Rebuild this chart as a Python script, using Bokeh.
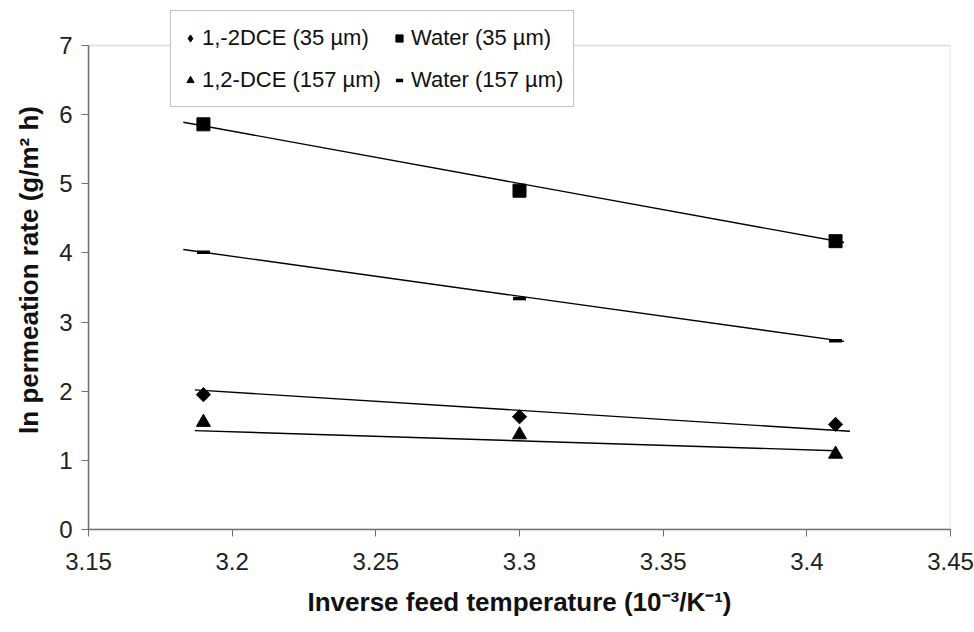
import numpy as np
from bokeh.plotting import figure
from bokeh.models import Range1d, FixedTicker, Legend, LegendItem, BoxAnnotation
from bokeh.embed import file_html
from bokeh.resources import INLINE

# Data
inv_temp = [3.19, 3.30, 3.41]
dce_35 = [1.95, 1.63, 1.52]
water_35 = [5.86, 4.90, 4.17]
dce_157 = [1.55, 1.37, 1.09]
water_157 = [4.01, 3.34, 2.73]

# Trend lines as drawn in the chart (start/end x and y)
trend_water_35_x = [3.183, 3.413]
trend_water_35_y = [5.89, 4.15]
trend_water_157_x = [3.183, 3.413]
trend_water_157_y = [4.05, 2.72]
trend_dce_35_x = [3.187, 3.415]
trend_dce_35_y = [2.02, 1.42]
trend_dce_157_x = [3.187, 3.410]
trend_dce_157_y = [1.43, 1.14]

x_ticks = [3.15, 3.20, 3.25, 3.30, 3.35, 3.40, 3.45]
x_tick_labels = ["3.15", "3.2", "3.25", "3.3", "3.35", "3.4", "3.45"]
y_ticks = [0, 1, 2, 3, 4, 5, 6, 7]

FONT = "Liberation Sans"
GREY = "#8a8a8a"

# The frame is extended upward so that the legend (which sticks out above
# the plot box) is not clipped; the visible box is drawn for 0..7.
y_top = y_ticks[-1] * (519 / 484)

p = figure(width=974, height=632, output_backend="svg", toolbar_location=None,
           x_range=Range1d(x_ticks[0], x_ticks[-1]), y_range=Range1d(0, y_top),
           min_border_left=88, min_border_right=24, min_border_top=10, min_border_bottom=103)

p.xgrid.visible = False
p.ygrid.visible = False
p.outline_line_color = None
p.background_fill_color = "white"
p.border_fill_color = "white"

box = BoxAnnotation(left=x_ticks[0], right=x_ticks[-1], bottom=y_ticks[0], top=y_ticks[-1],
                    fill_color=None, line_color=GREY, line_width=1.5, level="underlay")
p.add_layout(box)

for ax in (p.xaxis[0], p.yaxis[0]):
    ax.axis_line_color = "#707070"
    ax.axis_line_width = 1.5
    ax.major_tick_line_color = "#707070"
    ax.major_tick_out = 7
    ax.major_tick_in = 0
    ax.minor_tick_line_color = None
    ax.major_label_text_font = FONT
    ax.major_label_text_font_size = "24px"
    ax.major_label_text_color = "#222222"
    ax.axis_label_text_font = FONT
    ax.axis_label_text_font_style = "bold"
    ax.axis_label_text_font_size = "26px"
    ax.axis_label_text_color = "#111111"

p.xaxis.ticker = FixedTicker(ticks=x_ticks)
p.xaxis.major_label_overrides = {t: l for t, l in zip(x_ticks, x_tick_labels)}
p.yaxis.ticker = FixedTicker(ticks=y_ticks)
p.yaxis.bounds = (y_ticks[0], y_ticks[-1])
p.xaxis.axis_label = "Inverse feed temperature (10\u207b\u00b3/K\u207b\u00b9)"
p.yaxis.axis_label = "ln permeation rate (g/m\u00b2 h)"
p.xaxis.major_label_standoff = 16
p.xaxis.axis_label_standoff = 14
p.yaxis.major_label_standoff = 9
p.yaxis.axis_label_standoff = 12

# Trend lines
for tx, ty in ((trend_water_35_x, trend_water_35_y),
               (trend_water_157_x, trend_water_157_y),
               (trend_dce_35_x, trend_dce_35_y),
               (trend_dce_157_x, trend_dce_157_y)):
    p.line(tx, ty, line_color="black", line_width=1.4)

r1 = p.scatter(inv_temp, dce_35, marker="square", angle=np.pi / 4, size=10, color="black")
r2 = p.scatter(inv_temp, water_35, marker="square", size=13, color="black")
r3 = p.scatter(inv_temp, dce_157, marker="triangle", size=14, color="black")
r4 = p.scatter(inv_temp, water_157, marker="dash", size=13, color="black", line_width=3.5)
# legend-only glyph for the diamond series (the legend ignores marker angle);
# its single point is NaN so nothing is drawn in the plot area
r1_leg = p.scatter(x=[np.nan], y=[np.nan], marker="diamond", size=14, color="black")

legend = Legend(items=[
    LegendItem(label="1,-2DCE (35 \u00b5m)", renderers=[r1_leg]),
    LegendItem(label="Water (35 \u00b5m)", renderers=[r2]),
    LegendItem(label="1,2-DCE (157 \u00b5m)", renderers=[r3]),
    LegendItem(label="Water (157 \u00b5m)", renderers=[r4]),
], location=(82, 422), orientation="horizontal", ncols=2)
legend.label_text_font = FONT
legend.label_text_font_size = "22px"
legend.label_text_color = "#111111"
legend.glyph_width = 18
legend.glyph_height = 18
legend.label_standoff = 3
legend.label_height = 33
legend.spacing = 9
legend.padding = 10
legend.margin = 0
legend.border_line_color = GREY
legend.border_line_width = 1.5
legend.background_fill_color = "white"
legend.background_fill_alpha = 1.0
p.add_layout(legend, "center")

open("out.html", "w").write(file_html(p, INLINE))
